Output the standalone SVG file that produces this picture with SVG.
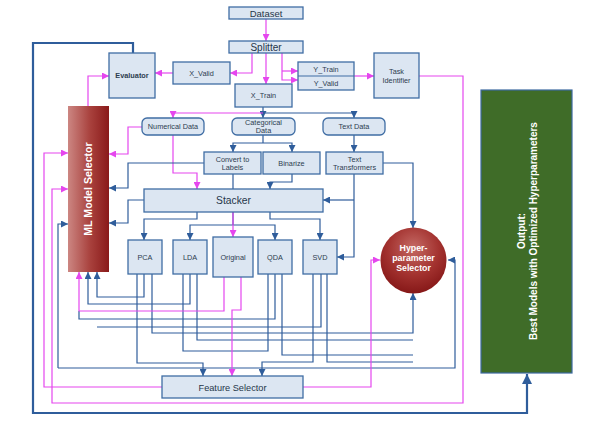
<svg xmlns="http://www.w3.org/2000/svg" width="599" height="441" viewBox="0 0 599 441">
<style>
.box{fill:#dce6f2;stroke:#3f6da4;stroke-width:1.3}
.t{font-family:"Liberation Sans",Arial,sans-serif;font-size:7.3px;fill:#2d3d50;text-anchor:middle}
.tb{font-weight:bold}
.big{font-size:9.5px;fill:#26364a}
.w{fill:#ffffff;font-weight:bold;text-anchor:middle;font-family:"Liberation Sans",Arial,sans-serif}
.b{fill:none;stroke:#2f5d9b;stroke-width:1.2}
.m{fill:none;stroke:#e546ee;stroke-width:1.2}
.bm{marker-end:url(#ab)}
.mm{marker-end:url(#am)}
</style>
<defs>
<marker id="ab" viewBox="0 0 10 10" refX="10" refY="5" markerWidth="7" markerHeight="7" markerUnits="userSpaceOnUse" orient="auto"><path d="M0,0 L10,5 L0,10 z" fill="#2f5d9b"/></marker>
<marker id="am" viewBox="0 0 10 10" refX="10" refY="5" markerWidth="7" markerHeight="7" markerUnits="userSpaceOnUse" orient="auto"><path d="M0,0 L10,5 L0,10 z" fill="#e546ee"/></marker>
<marker id="abig" viewBox="0 0 10 10" refX="10" refY="5" markerWidth="10" markerHeight="10" markerUnits="userSpaceOnUse" orient="auto"><path d="M0,0 L10,5 L0,10 z" fill="#2f5d9b"/></marker>
<linearGradient id="gml" x1="0" y1="0" x2="1" y2="0"><stop offset="0" stop-color="#cc8682"/><stop offset="0.55" stop-color="#a8403c"/><stop offset="1" stop-color="#8a1a1a"/></linearGradient>
<radialGradient id="ghp" cx="0.5" cy="0.35" r="0.65" fx="0.5" fy="0.3"><stop offset="0" stop-color="#c46964"/><stop offset="0.6" stop-color="#a3322f"/><stop offset="1" stop-color="#861818"/></radialGradient>
</defs>
<rect width="599" height="441" fill="#ffffff"/>

<g id="connectors">
<!-- outer loop -->
<path d="M133 53 V43 H33 V413 H527 V374" fill="none" stroke="#2f5d9b" stroke-width="2.2" marker-end="url(#abig)"/>
<!-- top magenta -->
<path class="m mm" d="M266 19 V41"/>
<path class="m mm" d="M266 53 V84"/>
<path class="m mm" d="M252 53 V73 H230"/>
<path class="m mm" d="M282 53 V80 H298"/>
<path class="m mm" d="M282 71 H298"/>
<path class="m mm" d="M173 73 H155"/>
<path class="m mm" d="M88 106 V76 H109"/>
<path class="m mm" d="M354 76 H374"/>
<path class="m mm" d="M419 76 H463 V403 H52 V189 H68"/>
<path class="m mm" d="M162 387 H44 V153 H68"/>
<!-- X_Train distribution -->
<path class="b bm" d="M263 107 V118"/>
<path class="b bm" d="M263 113 H354 V118"/>
<path class="m mm" d="M263 113 H173 V118"/>
<!-- categorical -->
<path class="b" d="M263 135 V143"/>
<path class="b bm" d="M263 143 H233 V152"/>
<path class="b bm" d="M263 143 H292 V152"/>
<path class="b bm" d="M354 135 V152"/>
<!-- text transformers -->
<path class="b bm" d="M383 163 H413 V228"/>
<path class="b bm" d="M354 174 V257 H337"/>
<path class="b bm" d="M354 200 H323"/>
<!-- into stacker -->
<path class="b" d="M233 174 V189"/>
<path class="b bm" d="M292 174 V182 H270 V189"/>
<path class="m mm" d="M173 135 V173 H197 V189"/>
<!-- into ML right side -->
<path class="m mm" d="M142 127 H128 V154 H109"/>
<path class="b bm" d="M204 163 H128 V188 H109"/>
<path class="b bm" d="M144 200 H128 V223 H109"/>
<!-- stacker bottom -->
<path class="b bm" d="M197 212 V219 H144 V240"/>
<path class="b" d="M233 212 V225"/>
<path class="b bm" d="M233 225 H190 V240"/>
<path class="b bm" d="M233 225 H275 V240"/>
<path class="b bm" d="M270 212 V219 H320 V240"/>
<path class="m mm" d="M233 212 V237"/>
<!-- lower network -->
<path class="b bm" d="M58 368 V224 H68"/>
<path class="b bm" d="M58 368 H455 V260 H448"/>
<path class="b bm" d="M137 274 V363 H203 V376"/>
<path class="b bm" d="M144 274 V297 H97 V272"/>
<path class="b bm" d="M152 274 V333 H413 V293"/>
<path class="b" d="M183 274 V351 H268 V274"/>
<path class="b bm" d="M190 274 V304 H88 V272"/>
<path class="b" d="M197 274 V340 H413"/>
<path class="b" d="M275 274 V319 H79 V311"/>
<path class="b" d="M282 274 V355 H413"/>
<path class="b bm" d="M313 274 V362 H262 V376"/>
<path class="b" d="M321 274 V327 H97"/>
<path class="b" d="M327 274 V362 H413"/>
<path class="m mm" d="M224 277 V311 H79 V272"/>
<path class="m mm" d="M241 277 V310 H232 V376"/>
<path class="m mm" d="M303 387 H371 V260 H380"/>
</g>

<g id="dataset"><rect class="box" x="229" y="7" width="74" height="12"/><text class="t big" x="266" y="16.6">Dataset</text></g>
<g id="splitter"><rect class="box" x="229" y="41" width="74" height="12"/><text class="t big" x="266" y="50.6" style="font-size:10px">Splitter</text></g>
<g id="evaluator"><rect class="box" x="109" y="53" width="46" height="45"/><text class="t tb" x="132" y="78">Evaluator</text></g>
<g id="x-valid"><rect class="box" x="173" y="62" width="57" height="22"/><text class="t" x="201.5" y="75.5">X_Valid</text></g>
<g id="x-train"><rect class="box" x="235" y="84" width="57" height="23"/><text class="t" x="263.5" y="98">X_Train</text></g>
<g id="y-train-valid"><rect class="box" x="298" y="62" width="56" height="28"/><line x1="298" y1="76" x2="354" y2="76" stroke="#3f6da4" stroke-width="1.1"/><text class="t" x="326" y="71.5">Y_Train</text><text class="t" x="326" y="85.5">Y_Valid</text></g>
<g id="task-identifier"><rect class="box" x="374" y="53" width="45" height="45"/><text class="t" x="396.5" y="74">Task</text><text class="t" x="396.5" y="82.5">Identifier</text></g>
<g id="ml-model-selector"><rect x="68" y="106" width="41" height="166" fill="url(#gml)"/><text class="w" transform="translate(88.5,189) rotate(-90)" x="0" y="3.8" style="font-size:10.6px">ML Model Selector</text></g>
<g id="numerical-data"><rect class="box" x="142" y="118" width="62" height="17" rx="5"/><text class="t" x="173" y="129">Numerical Data</text></g>
<g id="categorical-data"><rect class="box" x="232" y="118" width="63" height="17" rx="5"/><text class="t" x="263.5" y="125">Categorical</text><text class="t" x="263.5" y="133">Data</text></g>
<g id="text-data"><rect class="box" x="323" y="118" width="62" height="17" rx="5"/><text class="t" x="354" y="129">Text Data</text></g>
<g id="convert-labels"><rect class="box" x="204" y="152" width="57" height="22"/><text class="t" x="232.5" y="161.5">Convert to</text><text class="t" x="232.5" y="170">Labels</text></g>
<g id="binarize"><rect class="box" x="263" y="152" width="57" height="22"/><text class="t" x="291.5" y="166">Binarize</text></g>
<g id="text-transformers"><rect class="box" x="326" y="152" width="57" height="22"/><text class="t" x="354.5" y="161.5">Text</text><text class="t" x="354.5" y="170">Transformers</text></g>
<g id="stacker"><rect class="box" x="144" y="189" width="179" height="23"/><text class="t big" x="233.5" y="204" style="font-size:10.3px">Stacker</text></g>
<g id="pca"><rect class="box" x="128" y="240" width="34" height="34"/><text class="t" x="145" y="260">PCA</text></g>
<g id="lda"><rect class="box" x="173" y="240" width="34" height="34"/><text class="t" x="190" y="260">LDA</text></g>
<g id="original"><rect class="box" x="213" y="237" width="40" height="40"/><text class="t" x="233" y="260">Original</text></g>
<g id="qda"><rect class="box" x="258" y="240" width="34" height="34"/><text class="t" x="275" y="260">QDA</text></g>
<g id="svd"><rect class="box" x="303" y="240" width="34" height="34"/><text class="t" x="320" y="260">SVD</text></g>
<g id="hyper-selector"><circle cx="413.5" cy="260.5" r="33" fill="url(#ghp)"/><text class="w" x="413.5" y="251" style="font-size:8.8px">Hyper-</text><text class="w" x="413.5" y="261" style="font-size:8.8px">parameter</text><text class="w" x="413.5" y="271" style="font-size:8.8px">Selector</text></g>
<g id="feature-selector"><rect class="box" x="162" y="376" width="141" height="22"/><text class="t big" x="232.5" y="390.5" style="font-size:9.2px">Feature Selector</text></g>
<g id="output"><rect x="481" y="90" width="91" height="283" fill="#3f6c28" stroke="#3d69a0" stroke-width="1.2"/><text class="w" transform="translate(526.5,231) rotate(-90)" style="font-size:10px"><tspan x="0" y="-2">Output:</tspan><tspan x="0" y="10">Best Models with Optimized Hyperparameters</tspan></text></g>
</svg>
